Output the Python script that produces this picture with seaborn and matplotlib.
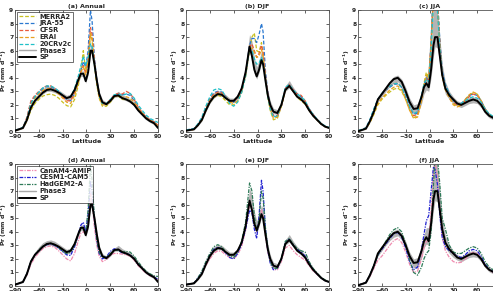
import numpy as np
import seaborn as sns
import matplotlib.pyplot as plt
from matplotlib.lines import Line2D

sns.set_style('ticks')
plt.rcParams['font.family'] = ['DejaVu Sans']
plt.rcParams['mathtext.default'] = 'bf'

lat = [-90, -85, -80, -75, -70, -65, -60, -55, -50, -45, -40, -35, -30, -25, -20, -15, -10, -7, -4, -1,
       2, 5, 7, 10, 13, 16, 20, 25, 30, 35, 40, 45, 50, 55, 60, 65, 70, 75, 80, 85, 90]

# ---- SP (black) ----
sp_ann = [0.1, 0.2, 0.3, 0.9, 1.8, 2.3, 2.6, 2.9, 3.1, 3.15, 3.05, 2.9, 2.7, 2.5, 2.6, 3.1, 3.9, 4.3, 4.3, 3.75,
          4.4, 6.0, 6.0, 5.0, 3.8, 2.8, 2.2, 2.05, 2.3, 2.65, 2.7, 2.5, 2.4, 2.25, 2.0, 1.6, 1.3, 1.0, 0.8, 0.65, 0.3]
sp_djf = [0.1, 0.15, 0.2, 0.5, 0.9, 1.6, 2.2, 2.6, 2.8, 2.75, 2.5, 2.3, 2.3, 2.6, 3.2, 4.4, 6.3, 5.6, 4.6, 4.1,
          4.6, 5.3, 5.0, 3.8, 2.7, 2.0, 1.5, 1.4, 2.0, 3.1, 3.4, 3.0, 2.6, 2.4, 2.1, 1.6, 1.2, 0.9, 0.6, 0.4, 0.3]
sp_jja = [0.05, 0.15, 0.25, 0.8, 1.5, 2.4, 2.8, 3.2, 3.6, 3.9, 4.0, 3.7, 3.0, 2.2, 1.7, 1.75, 2.6, 3.3, 3.6, 3.3,
          4.6, 6.4, 7.0, 7.0, 5.6, 4.2, 3.2, 2.7, 2.4, 2.1, 2.0, 2.15, 2.3, 2.4, 2.3, 2.0, 1.5, 1.2, 1.05, 0.9, 0.7]

# ---- Phase3 envelope (gray) ----
p3_ann_hi = [0.2, 0.3, 0.4, 1.0, 2.0, 2.5, 2.9, 3.2, 3.35, 3.4, 3.3, 3.1, 2.9, 2.7, 2.8, 3.3, 4.1, 4.5, 4.5, 4.0,
             4.8, 6.5, 6.4, 5.3, 4.0, 3.0, 2.4, 2.2, 2.4, 2.8, 3.0, 2.75, 2.6, 2.45, 2.2, 1.75, 1.45, 1.15, 0.95, 0.8, 0.5]
p3_ann_lo = [0.05, 0.15, 0.25, 0.8, 1.7, 2.2, 2.5, 2.8, 3.0, 3.0, 2.9, 2.75, 2.55, 2.35, 2.45, 2.95, 3.7, 4.1, 4.1, 3.6,
             4.2, 5.8, 5.8, 4.8, 3.6, 2.7, 2.1, 1.95, 2.2, 2.55, 2.6, 2.4, 2.3, 2.15, 1.9, 1.5, 1.2, 0.9, 0.7, 0.55, 0.2]
p3_djf_hi = [0.2, 0.25, 0.3, 0.6, 1.0, 1.8, 2.5, 2.9, 3.05, 3.0, 2.75, 2.5, 2.5, 2.8, 3.5, 4.9, 7.2, 6.7, 5.5, 4.8,
             5.3, 6.0, 5.6, 4.3, 3.1, 2.3, 1.75, 1.65, 2.3, 3.4, 3.8, 3.3, 2.9, 2.65, 2.3, 1.8, 1.35, 1.0, 0.7, 0.5, 0.4]
p3_djf_lo = [0.05, 0.1, 0.15, 0.45, 0.8, 1.5, 2.1, 2.5, 2.7, 2.65, 2.4, 2.2, 2.2, 2.5, 3.1, 4.2, 6.0, 5.3, 4.3, 3.9,
             4.4, 5.1, 4.8, 3.6, 2.5, 1.85, 1.35, 1.3, 1.9, 3.0, 3.25, 2.9, 2.5, 2.3, 2.0, 1.5, 1.1, 0.8, 0.55, 0.35, 0.25]
p3_jja_hi = [0.15, 0.25, 0.35, 0.9, 1.7, 2.6, 3.0, 3.4, 3.8, 4.1, 4.2, 3.9, 3.3, 2.5, 2.0, 2.1, 3.0, 3.8, 4.3, 4.3,
             6.0, 9.5, 9.5, 9.0, 7.0, 5.0, 3.7, 3.0, 2.6, 2.3, 2.2, 2.35, 2.55, 2.6, 2.5, 2.2, 1.7, 1.4, 1.2, 1.0, 0.8]
p3_jja_lo = [0.05, 0.1, 0.2, 0.7, 1.4, 2.2, 2.6, 3.0, 3.35, 3.6, 3.7, 3.4, 2.7, 1.9, 1.35, 1.3, 2.1, 2.8, 3.1, 3.0,
             4.0, 5.6, 6.3, 6.2, 5.0, 3.7, 2.8, 2.4, 2.1, 1.9, 1.8, 1.95, 2.1, 2.15, 2.1, 1.8, 1.35, 1.05, 0.9, 0.75, 0.6]

# ---- reanalyses ----
merra2_ann = [0.1, 0.2, 0.3, 0.8, 1.6, 2.1, 2.4, 2.65, 2.75, 2.8, 2.7, 2.5, 2.2, 1.95, 1.85, 2.4, 3.5, 4.6, 6.0, 4.5,
              5.2, 7.2, 6.8, 5.0, 3.5, 2.5, 1.9, 1.9, 2.2, 2.6, 2.65, 2.4, 2.4, 2.3, 2.05, 1.7, 1.4, 1.05, 0.85, 0.7, 0.4]
jra55_ann = [0.15, 0.2, 0.3, 1.0, 2.2, 2.6, 2.9, 3.2, 3.35, 3.35, 3.2, 3.0, 2.7, 2.4, 2.3, 2.8, 3.8, 4.5, 5.2, 4.8,
             6.0, 9.0, 8.2, 5.5, 3.8, 2.8, 2.1, 2.05, 2.3, 2.7, 2.8, 2.75, 2.8, 2.7, 2.3, 1.8, 1.4, 1.1, 0.9, 0.75, 0.5]
cfsr_ann = [0.1, 0.2, 0.3, 1.1, 2.3, 2.7, 3.0, 3.25, 3.4, 3.4, 3.2, 2.95, 2.6, 2.3, 2.3, 2.9, 3.9, 4.5, 4.9, 4.3,
            5.4, 7.7, 7.2, 5.3, 3.7, 2.7, 2.1, 2.1, 2.4, 2.75, 2.85, 2.8, 3.0, 2.85, 2.4, 1.85, 1.45, 1.1, 0.9, 0.75, 0.5]
erai_ann = [0.1, 0.2, 0.3, 0.9, 2.0, 2.5, 2.8, 3.05, 3.2, 3.2, 3.05, 2.8, 2.5, 2.2, 2.1, 2.7, 3.7, 4.4, 4.8, 4.2,
            5.1, 7.3, 6.9, 5.0, 3.5, 2.5, 2.0, 2.0, 2.3, 2.6, 2.7, 2.55, 2.6, 2.5, 2.2, 1.75, 1.4, 1.05, 0.85, 0.7, 0.45]
cr20_ann = [0.15, 0.2, 0.35, 1.0, 2.1, 2.6, 2.95, 3.25, 3.4, 3.4, 3.25, 3.0, 2.7, 2.5, 2.6, 3.2, 4.2, 4.9, 5.6, 4.9,
            5.5, 6.5, 6.3, 5.0, 3.6, 2.7, 2.1, 2.1, 2.4, 2.75, 2.8, 2.7, 2.8, 2.85, 2.5, 2.0, 1.6, 1.25, 1.0, 0.85, 0.7]

merra2_djf = [0.1, 0.15, 0.2, 0.5, 0.9, 1.6, 2.2, 2.55, 2.7, 2.6, 2.3, 2.0, 2.0, 2.3, 3.0, 4.2, 6.1, 7.0, 7.3, 6.0,
              5.9, 6.6, 5.8, 4.0, 2.6, 1.6, 0.9, 1.0, 1.9, 3.1, 3.4, 3.0, 2.55, 2.3, 2.05, 1.6, 1.2, 0.9, 0.6, 0.4, 0.3]
jra55_djf = [0.15, 0.2, 0.25, 0.55, 1.0, 1.8, 2.4, 2.9, 3.0, 2.95, 2.6, 2.3, 2.2, 2.4, 3.0, 4.3, 6.4, 6.9, 6.9, 6.6,
             7.2, 8.0, 7.4, 4.5, 2.9, 1.9, 1.2, 1.2, 1.9, 3.2, 3.5, 3.1, 2.8, 2.6, 2.2, 1.7, 1.3, 0.9, 0.6, 0.4, 0.3]
cfsr_djf = [0.1, 0.15, 0.2, 0.55, 1.0, 1.8, 2.4, 2.8, 2.95, 2.9, 2.6, 2.3, 2.3, 2.5, 3.1, 4.3, 6.3, 6.5, 6.0, 5.5,
            5.8, 6.4, 5.9, 4.2, 2.8, 1.8, 1.2, 1.2, 1.9, 3.2, 3.5, 3.1, 2.8, 2.7, 2.3, 1.7, 1.3, 0.9, 0.6, 0.4, 0.3]
erai_djf = [0.1, 0.15, 0.2, 0.5, 0.9, 1.7, 2.3, 2.7, 2.85, 2.8, 2.5, 2.2, 2.1, 2.3, 2.9, 4.1, 6.0, 6.2, 5.9, 5.5,
            5.6, 6.1, 5.6, 4.0, 2.6, 1.7, 1.0, 1.1, 1.9, 3.1, 3.4, 3.0, 2.6, 2.45, 2.15, 1.6, 1.2, 0.9, 0.6, 0.4, 0.3]
cr20_djf = [0.15, 0.2, 0.25, 0.6, 1.1, 1.9, 2.6, 3.1, 3.2, 3.1, 2.6, 2.1, 1.9, 2.2, 2.9, 4.1, 6.2, 6.0, 5.4, 5.0,
            5.1, 5.5, 5.2, 3.9, 2.6, 1.7, 1.1, 1.2, 2.0, 3.3, 3.5, 3.1, 2.8, 2.6, 2.3, 1.7, 1.3, 0.95, 0.65, 0.45, 0.35]

merra2_jja = [0.05, 0.15, 0.25, 0.7, 1.3, 2.0, 2.4, 2.7, 2.95, 3.15, 3.25, 3.0, 2.4, 1.6, 1.05, 1.2, 2.4, 3.6, 4.4, 4.0,
              6.5, 10.5, 11.0, 10.0, 6.5, 4.2, 3.2, 2.6, 2.1, 1.9, 2.0, 2.4, 2.7, 2.9, 2.8, 2.3, 1.7, 1.3, 1.1, 0.9, 0.7]
jra55_jja = [0.1, 0.2, 0.3, 0.9, 1.7, 2.4, 2.8, 3.1, 3.3, 3.5, 3.55, 3.3, 2.6, 1.8, 1.3, 1.4, 2.6, 3.5, 4.0, 3.8,
             6.8, 11.0, 11.5, 10.0, 6.8, 4.5, 3.5, 2.8, 2.3, 2.1, 2.1, 2.4, 2.7, 2.8, 2.7, 2.3, 1.7, 1.3, 1.1, 0.9, 0.7]
cfsr_jja = [0.1, 0.2, 0.3, 0.8, 1.6, 2.4, 2.8, 3.1, 3.4, 3.55, 3.6, 3.3, 2.6, 1.8, 1.2, 1.3, 2.5, 3.4, 3.9, 3.8,
            6.6, 10.0, 10.5, 9.5, 6.5, 4.3, 3.3, 2.7, 2.2, 2.0, 2.0, 2.3, 2.6, 2.8, 2.7, 2.3, 1.7, 1.3, 1.1, 0.9, 0.7]
erai_jja = [0.05, 0.15, 0.25, 0.7, 1.4, 2.1, 2.5, 2.8, 3.1, 3.3, 3.4, 3.1, 2.4, 1.6, 1.0, 1.1, 2.3, 3.4, 4.2, 3.9,
            6.3, 10.0, 10.3, 9.2, 6.3, 4.1, 3.1, 2.5, 2.0, 1.85, 1.95, 2.4, 2.75, 2.95, 2.8, 2.3, 1.7, 1.3, 1.1, 0.9, 0.7]
cr20_jja = [0.1, 0.2, 0.3, 0.9, 1.7, 2.4, 2.85, 3.15, 3.4, 3.55, 3.6, 3.3, 2.7, 1.9, 1.35, 1.5, 2.7, 3.5, 3.9, 3.7,
            6.0, 9.5, 10.0, 9.0, 6.2, 4.3, 3.4, 2.8, 2.3, 2.1, 2.1, 2.3, 2.5, 2.6, 2.5, 2.2, 1.7, 1.35, 1.15, 0.95, 0.75]

# ---- models ----
canam_ann = [0.1, 0.2, 0.3, 0.8, 1.6, 2.1, 2.45, 2.75, 2.9, 2.95, 2.85, 2.6, 2.3, 2.0, 1.85, 2.4, 3.4, 3.9, 4.0, 3.8,
             4.8, 6.8, 6.3, 4.3, 3.0, 2.2, 1.8, 1.95, 2.3, 2.4, 2.4, 2.35, 2.3, 2.2, 1.9, 1.5, 1.2, 0.95, 0.75, 0.6, 0.4]
cesm_ann = [0.1, 0.2, 0.3, 0.9, 1.8, 2.3, 2.6, 2.9, 3.05, 3.1, 3.0, 2.8, 2.55, 2.3, 2.25, 2.9, 3.9, 4.5, 4.7, 4.0,
            5.3, 7.7, 7.0, 4.8, 3.3, 2.4, 2.0, 2.15, 2.55, 2.75, 2.6, 2.45, 2.4, 2.3, 2.0, 1.6, 1.3, 1.0, 0.8, 0.65, 0.5]
hadgem_ann = [0.1, 0.2, 0.3, 0.9, 1.8, 2.3, 2.65, 2.95, 3.1, 3.15, 3.05, 2.85, 2.55, 2.4, 2.5, 3.0, 3.9, 4.3, 4.2, 3.9,
              5.6, 8.9, 7.8, 5.0, 3.4, 2.5, 2.1, 2.15, 2.4, 2.7, 2.6, 2.5, 2.55, 2.5, 2.2, 1.8, 1.4, 1.1, 0.9, 0.75, 0.7]

canam_djf = [0.1, 0.15, 0.2, 0.5, 0.9, 1.5, 2.0, 2.4, 2.6, 2.55, 2.3, 2.1, 2.0, 2.3, 2.9, 4.1, 6.0, 5.7, 4.6, 4.0,
             4.8, 5.6, 5.2, 3.7, 2.5, 1.8, 1.2, 1.2, 1.8, 2.8, 3.0, 2.6, 2.3, 2.1, 1.9, 1.5, 1.1, 0.85, 0.6, 0.4, 0.3]
cesm_djf = [0.1, 0.15, 0.2, 0.6, 1.0, 1.7, 2.3, 2.7, 2.85, 2.75, 2.45, 2.1, 2.0, 2.4, 3.1, 4.2, 5.6, 5.4, 4.2, 3.5,
            5.2, 7.8, 7.0, 4.2, 2.6, 1.7, 1.2, 1.3, 2.0, 3.2, 3.45, 3.0, 2.7, 2.5, 2.2, 1.7, 1.2, 0.9, 0.6, 0.4, 0.3]
hadgem_djf = [0.1, 0.15, 0.2, 0.6, 1.1, 1.8, 2.4, 2.9, 3.05, 2.9, 2.5, 2.2, 2.1, 2.5, 3.3, 4.7, 7.6, 7.0, 5.2, 4.0,
              4.9, 7.0, 6.5, 4.3, 2.8, 1.8, 1.3, 1.3, 2.0, 3.3, 3.5, 3.1, 2.75, 2.6, 2.5, 1.8, 1.3, 0.95, 0.65, 0.45, 0.3]

canam_jja = [0.05, 0.15, 0.25, 0.7, 1.3, 1.9, 2.2, 2.6, 3.0, 3.35, 3.5, 3.2, 2.5, 1.6, 1.0, 1.1, 2.0, 2.8, 3.3, 3.4,
             5.5, 8.5, 9.3, 8.0, 5.5, 3.6, 2.6, 2.1, 1.8, 1.7, 1.75, 2.0, 2.3, 2.5, 2.4, 2.0, 1.5, 1.2, 1.0, 0.8, 0.6]
cesm_jja = [0.05, 0.15, 0.25, 0.8, 1.5, 2.3, 2.7, 3.1, 3.5, 3.85, 3.95, 3.6, 2.8, 1.8, 1.2, 1.4, 2.7, 3.8, 4.8, 5.2,
            7.0, 8.8, 8.6, 7.5, 5.2, 3.6, 2.9, 2.6, 2.4, 2.2, 2.1, 2.3, 2.6, 2.7, 2.6, 2.2, 1.6, 1.25, 1.05, 0.85, 0.65]
hadgem_jja = [0.05, 0.15, 0.25, 0.8, 1.5, 2.3, 2.8, 3.3, 3.8, 4.15, 4.3, 4.0, 3.1, 1.9, 1.0, 0.8, 1.4, 2.0, 2.4, 2.6,
              4.0, 7.5, 9.5, 9.5, 7.5, 5.0, 4.2, 3.0, 2.5, 2.4, 2.4, 2.6, 2.8, 2.9, 2.8, 2.4, 1.8, 1.4, 1.2, 1.0, 0.8]

reanalyses = {
    'ann': [('MERRA2', merra2_ann), ('JRA-55', jra55_ann), ('CFSR', cfsr_ann), ('ERAI', erai_ann), ('20CRv2c', cr20_ann)],
    'djf': [('MERRA2', merra2_djf), ('JRA-55', jra55_djf), ('CFSR', cfsr_djf), ('ERAI', erai_djf), ('20CRv2c', cr20_djf)],
    'jja': [('MERRA2', merra2_jja), ('JRA-55', jra55_jja), ('CFSR', cfsr_jja), ('ERAI', erai_jja), ('20CRv2c', cr20_jja)],
}
models = {
    'ann': [('CanAM4-AMIP', canam_ann), ('CESM1-CAM5', cesm_ann), ('HadGEM2-A', hadgem_ann)],
    'djf': [('CanAM4-AMIP', canam_djf), ('CESM1-CAM5', cesm_djf), ('HadGEM2-A', hadgem_djf)],
    'jja': [('CanAM4-AMIP', canam_jja), ('CESM1-CAM5', cesm_jja), ('HadGEM2-A', hadgem_jja)],
}
sp = {'ann': sp_ann, 'djf': sp_djf, 'jja': sp_jja}
p3 = {'ann': (p3_ann_lo, p3_ann_hi), 'djf': (p3_djf_lo, p3_djf_hi), 'jja': (p3_jja_lo, p3_jja_hi)}

colors = {'MERRA2': '#c8c020', 'JRA-55': '#2a78d0', 'CFSR': '#e85a3c', 'ERAI': '#e8a020', '20CRv2c': '#20c0c8',
          'CanAM4-AMIP': '#f08cb0', 'CESM1-CAM5': '#2020d0', 'HadGEM2-A': '#2e7a58'}

W, H = 493, 291
fig = plt.figure(figsize=(W / 100, H / 100), dpi=100)
lefts = [15, 186, 358]
tops = [10, 164]
seasons = ['ann', 'djf', 'jja']
titles = [['(a) Annual', '(b) DJF', '(c) JJA'], ['(d) Annual', '(e) DJF', '(f) JJA']]

for r in range(2):
    for c in range(3):
        ax = fig.add_axes([lefts[c] / W, (H - tops[r] - 122) / H, 143 / W, 122 / H])
        s = seasons[c]
        lo, hi = p3[s]
        ax.fill_between(lat, lo, hi, color='#b4b4b4', lw=0, zorder=1)
        group = reanalyses[s] if r == 0 else models[s]
        ls = (0, (3, 1.5)) if r == 0 else (0, (3, 1, 1, 1))
        for name, vals in group:
            sns.lineplot(x=lat, y=vals, ax=ax, color=colors[name], lw=0.9, linestyle=ls,
                         legend=False, zorder=2)
        sns.lineplot(x=lat, y=sp[s], ax=ax, color='black', lw=1.4, legend=False, zorder=3)
        ax.set_xlim(-90, 90)
        ax.set_ylim(0, 9)
        ax.set_xticks(range(-90, 91, 30))
        ax.set_yticks(range(0, 10))
        ax.tick_params(direction='in', length=2, width=0.5, labelsize=4.3, pad=1.2,
                       top=True, right=True)
        for lab in ax.get_xticklabels() + ax.get_yticklabels():
            lab.set_fontweight('bold')
        for sp_ in ax.spines.values():
            sp_.set_linewidth(0.6)
            sp_.set_color('#555555')
        ax.set_title(titles[r][c], fontsize=4.6, fontweight='bold', pad=1.5)
        ax.set_xlabel('Latitude', fontsize=4.6, fontweight='bold', labelpad=0.5)
        ax.set_ylabel(r'Pr (mm d$^{-1}$)', fontsize=4.4, fontweight='bold', labelpad=0.3)
        if c == 0:
            handles = [Line2D([], [], color=colors[n], lw=0.9, linestyle=ls) for n, _ in group]
            labels = [n for n, _ in group]
            handles += [Line2D([], [], color='#a8a8a8', lw=1.0), Line2D([], [], color='black', lw=1.4)]
            labels += ['Phase3', 'SP']
            leg = ax.legend(handles, labels, loc='upper left', fontsize=4.8, frameon=True, fancybox=False,
                            handlelength=2.6, labelspacing=0.12, borderpad=0.25, handletextpad=0.5,
                            borderaxespad=0.3)
            leg.get_frame().set_edgecolor('black')
            leg.get_frame().set_linewidth(0.5)
            for t in leg.get_texts():
                t.set_fontweight('bold')

fig.savefig('out.png', dpi=100)
